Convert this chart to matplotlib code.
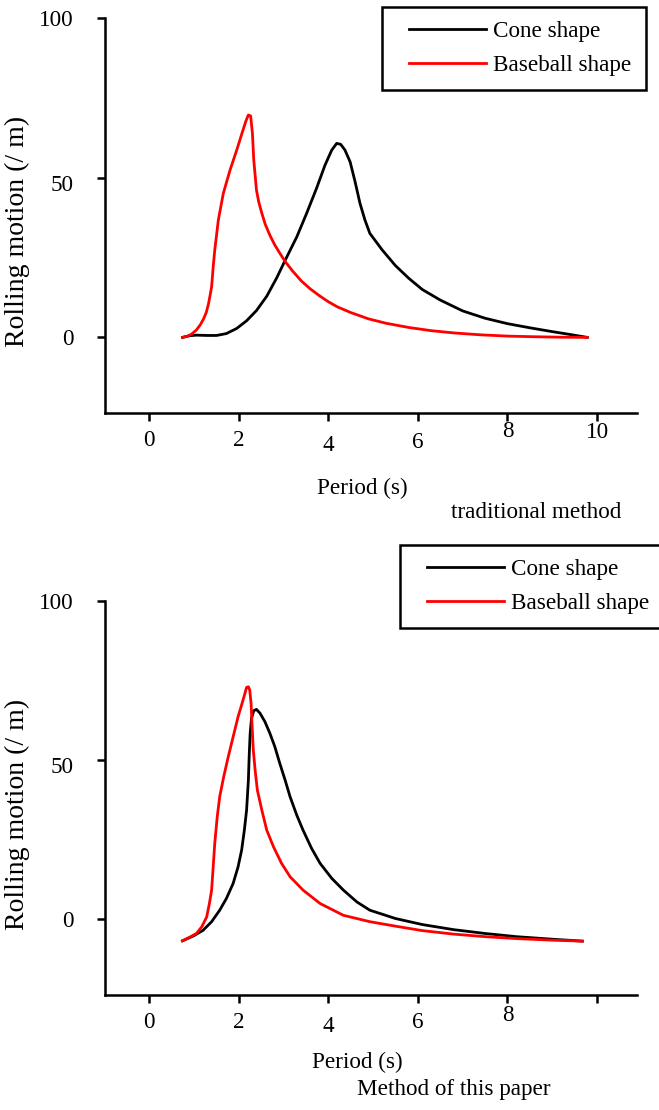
"""Rolling motion vs period: traditional method (top) and method of this paper (bottom)."""
import matplotlib
matplotlib.use("Agg")
import matplotlib.pyplot as plt
import matplotlib.transforms as mtransforms
from matplotlib.legend_handler import HandlerLine2D
from matplotlib.lines import Line2D

plt.rcParams["font.family"] = ["Liberation Serif", "DejaVu Serif"]

# ---- data (period in s, rolling motion) ----
trad_cone_x = [0.75, 0.9, 1.06, 1.3, 1.51, 1.73, 1.96, 2.18, 2.40, 2.63, 2.85, 3.07, 3.30,
               3.52, 3.74, 3.93, 4.08, 4.19, 4.28, 4.375, 4.49, 4.60, 4.71, 4.82, 4.93,
               5.2, 5.5, 5.8, 6.1, 6.5, 7.0, 7.5, 8.0, 8.5, 9.0, 9.4, 9.78]
trad_cone_y = [0.0, 0.5, 0.7, 0.6, 0.6, 1.2, 2.8, 5.2, 8.4, 12.9, 18.6, 25.0, 31.5,
               38.9, 46.7, 54.0, 58.7, 60.8, 60.5, 58.7, 55.0, 48.8, 42.0, 36.8, 32.6,
               27.5, 22.5, 18.5, 15.0, 11.7, 8.3, 6.0, 4.3, 3.0, 1.8, 0.9, 0.0]
trad_ball_x = [0.75, 0.85, 0.95, 1.06, 1.15, 1.22, 1.28, 1.33, 1.37, 1.40, 1.435, 1.47,
               1.55, 1.66, 1.81, 1.96, 2.10, 2.17, 2.22, 2.27, 2.31, 2.34, 2.40, 2.45,
               2.52, 2.60, 2.70, 2.80, 2.92, 3.05, 3.2, 3.4, 3.6, 3.8, 4.0, 4.2, 4.5,
               4.9, 5.3, 5.8, 6.3, 6.8, 7.4, 8.0, 8.6, 9.2, 9.78]
trad_ball_y = [0.0, 0.3, 1.0, 2.3, 4.0, 5.8, 7.8, 10.5, 13.5, 15.9, 22.1, 27.4,
               36.8, 45.1, 52.4, 58.7, 65.0, 68.0, 69.7, 69.4, 64.0, 55.6, 46.2, 42.5,
               38.9, 35.3, 32.0, 29.2, 26.4, 23.6, 20.9, 17.7, 15.2, 13.1, 11.2, 9.6, 7.8,
               5.8, 4.4, 3.1, 2.1, 1.4, 0.8, 0.4, 0.2, 0.05, 0.0]

new_cone_x = [0.75, 0.99, 1.21, 1.40, 1.58, 1.73, 1.88, 1.99, 2.07, 2.13, 2.18, 2.22,
              2.24, 2.26, 2.29, 2.34, 2.40, 2.48, 2.59, 2.70, 2.81, 2.92, 3.04, 3.15,
              3.30, 3.44, 3.63, 3.82, 4.08, 4.34, 4.64, 4.93, 5.5, 6.1, 6.8, 7.5, 8.2,
              9.0, 9.67]
new_cone_y = [-6.7, -5.2, -3.4, -0.7, 2.9, 6.6, 11.3, 16.5, 21.8, 28.0, 34.3, 43.7,
              52.1, 58.4, 63.1, 65.5, 65.9, 64.7, 62.0, 58.4, 54.2, 49.0, 43.7, 38.5,
              32.7, 28.0, 22.3, 17.6, 12.9, 9.2, 5.5, 2.9, 0.3, -1.6, -3.2, -4.4, -5.4,
              -6.2, -6.8]
new_ball_x = [0.75, 0.92, 1.06, 1.18, 1.29, 1.35, 1.40, 1.44, 1.47, 1.525, 1.58, 1.67,
              1.77, 1.88, 1.99, 2.09, 2.18, 2.22, 2.25, 2.28, 2.30, 2.33, 2.37, 2.42,
              2.52, 2.63, 2.78, 2.96, 3.15, 3.44, 3.82, 4.34, 4.93, 5.5, 6.1, 6.8, 7.5,
              8.2, 9.0, 9.67]
new_ball_y = [-6.7, -5.5, -4.4, -2.3, 0.8, 5.0, 9.2, 17.6, 23.9, 32.2, 38.5, 44.8,
              51.0, 57.3, 63.6, 68.3, 72.8, 73.0, 72.0, 67.8, 61.5, 53.1, 46.9, 40.6,
              34.3, 28.0, 22.8, 17.6, 13.4, 9.2, 5.0, 1.3, -0.7, -2.1, -3.5, -4.6, -5.4,
              -6.0, -6.5, -6.8]

xticks_top = [0, 2, 4, 6, 8, 10]
xlabels_top = ["0", "2", "4", "6", "8", "10"]
xlabels_bot = ["0", "2", "4", "6", "8", ""]
yticks = [0, 50, 100]
labels = ["Cone shape", "Baseball shape"]

W, H = 659, 1110
FS = 16.7
LW = 2.0
SW = 1.8

fig = plt.figure(figsize=(W / 100, H / 100), dpi=100)


def px_axes(left, top, right, bottom):
    return fig.add_axes([left / W, 1 - bottom / H, (right - left) / W, (bottom - top) / H])


def shift(lbl, dx_px, dy_px):
    off = mtransforms.ScaledTranslation(dx_px / 100, dy_px / 100, fig.dpi_scale_trans)
    lbl.set_transform(lbl.get_transform() + off)


def style(ax, xtl, xshifts):
    ax.set_xlim(-0.99, 10.89)
    ax.set_ylim(-23.7, 100)
    for s in ("top", "right"):
        ax.spines[s].set_visible(False)
    for s in ("left", "bottom"):
        ax.spines[s].set_linewidth(SW)
    ax.set_xticks(xticks_top)
    ax.set_xticklabels(xtl)
    ax.set_yticks(yticks)
    ax.tick_params(axis="x", direction="out", length=6, width=SW, labelsize=FS, pad=6)
    ax.tick_params(axis="y", direction="out", length=6, width=SW, labelsize=FS, pad=16)
    for lbl, dy in zip(ax.get_xticklabels(), xshifts):
        shift(lbl, 0, dy)
    shift(ax.get_yticklabels()[1], 0, -5)
    ax.set_ylabel("Rolling motion (/ m)", fontsize=20)
    ax.set_xlabel("Period (s)", fontsize=FS)


def legend(ax, left, top):
    lg = ax.legend(loc="upper left", bbox_to_anchor=(left / W, 1 - top / H),
                   bbox_transform=fig.transFigure, borderaxespad=0, fontsize=FS,
                   frameon=True, fancybox=False, edgecolor="black", framealpha=1,
                   handlelength=3.9, handletextpad=0.3, borderpad=0.6, labelspacing=0.55,
                   handler_map={Line2D: HandlerLine2D(xpad=0.55)})
    lg.get_frame().set_linewidth(SW)


ax1 = px_axes(104.5, 18.3, 637, 413)
ax1.plot(trad_cone_x, trad_cone_y, color="black", lw=LW, label=labels[0])
ax1.plot(trad_ball_x, trad_ball_y, color="red", lw=LW, label=labels[1])
style(ax1, xlabels_top, [0, 0, -5, -2, 9, 8])
ax1.yaxis.set_label_coords(-0.14, 0.46)
ax1.xaxis.set_label_coords(0.484, -0.165)
legend(ax1, 382, 7)

ax2 = px_axes(104.5, 600.7, 637, 995)
ax2.plot(new_cone_x, new_cone_y, color="black", lw=LW, label=labels[0])
ax2.plot(new_ball_x, new_ball_y, color="red", lw=LW, label=labels[1])
style(ax2, xlabels_bot, [0, 0, -4, 0, 7, 0])
ax2.yaxis.set_label_coords(-0.14, 0.457)
ax2.xaxis.set_label_coords(0.474, -0.143)
legend(ax2, 400, 545)

fig.text(536 / W, 1 - 513 / H, "traditional method", ha="center", va="center", fontsize=FS)
fig.text(454 / W, 1 - 1090 / H, "Method of this paper", ha="center", va="center", fontsize=FS)

fig.savefig("out.png", dpi=100)
